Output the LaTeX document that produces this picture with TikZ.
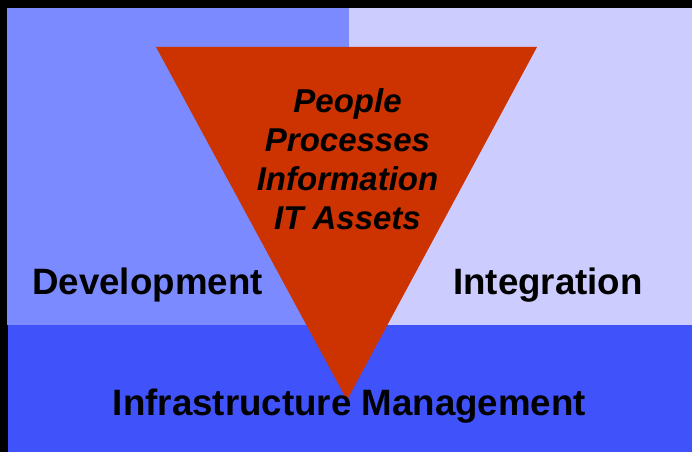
\documentclass[tikz,border=0pt]{standalone}
\usepackage{fontspec}
\setmainfont{Liberation Sans}
\usetikzlibrary{positioning}
\definecolor{devblue}{HTML}{7B8BFF}
\definecolor{intblue}{HTML}{CCCCFF}
\definecolor{infblue}{HTML}{4053FA}
\definecolor{coreorange}{HTML}{CC3300}

\begin{document}
\begin{tikzpicture}[x=1pt, y=-1pt, node distance={39pt},
    area/.style = {font=\fontsize{36.7}{40}\selectfont\bfseries, anchor=base},
    core/.style = {font=\fontsize{33}{39}\selectfont\bfseries\itshape, text height=24pt, text depth=7pt, inner sep=0pt}]
    \fill[black] (0,0) rectangle (692,452);
    \fill[devblue] (7,8) rectangle (349,325);
    \fill[intblue] (349,8) rectangle (692,325);
    \fill[infblue] (8,325) rectangle (692,452);
    \coordinate (tl) at (156,47);
    \coordinate (tr) at (537,47);
    \coordinate (apex) at (347,400);
    \fill[coreorange] (tl) -- (tr) -- (apex) -- cycle;
    \node[area] (dev) at (147.5,294) {Development};
    \node[area] (int) at (548,294) {Integration};
    \node[area] (inf) at (349.5,415) {Infrastructure Management};
    \node[core] (people) at (347.5,104) {People};
    \node[core] (proc) [below of=people] {Processes};
    \node[core] (info) [below of=proc] {Information};
    \node[core] (assets) [below of=info] {IT Assets};
\end{tikzpicture}
\end{document}
